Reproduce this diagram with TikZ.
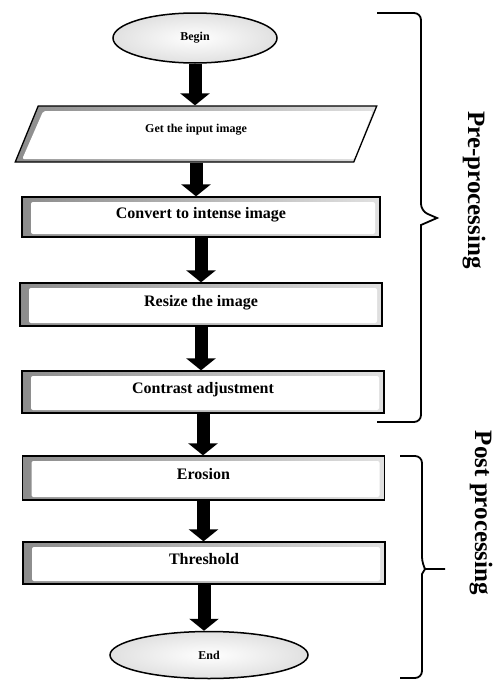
\documentclass[tikz,border=0pt]{standalone}
\usepackage{fontspec}
\setmainfont{Liberation Serif}
\usetikzlibrary{arrows.meta,positioning,shapes.geometric}
\tikzset{
  stepbox/.style={draw=black, line width=1.3pt, minimum width=362pt, minimum height=43pt, inner sep=0pt, text depth=8pt, font=\bfseries\fontsize{16}{18}\selectfont,
    path picture={
      \shade[left color=black!45, right color=black!12] (path picture bounding box.south west) rectangle (path picture bounding box.north east);
      \fill[white, rounded corners=2pt] ([shift={(9pt,-5pt)}]path picture bounding box.north west) rectangle ([shift={(-5pt,3pt)}]path picture bounding box.south east);
    }},
  inputbox/.style={trapezium, trapezium left angle=70, trapezium right angle=110, trapezium stretches=true, draw=black, line width=1.3pt, minimum width=362pt, minimum height=56pt, inner sep=0pt, text depth=12pt, font=\bfseries\fontsize{12}{14}\selectfont,
    path picture={
      \shade[left color=black!45, right color=black!12] (path picture bounding box.south west) rectangle (path picture bounding box.north east);
      \fill[white, rounded corners=2pt] ([shift={(28pt,-5pt)}]path picture bounding box.north west) -- ([shift={(-4pt,-5pt)}]path picture bounding box.north east) -- ([shift={(-22pt,3pt)}]path picture bounding box.south east) -- ([shift={(7pt,3pt)}]path picture bounding box.south west) -- cycle;
    }},
  terminal/.style={ellipse, draw=black, line width=1.5pt, inner sep=0pt, font=\bfseries\fontsize{12}{14}\selectfont, inner color=white, outer color=black!12},
  blockarrow/.style={-{Triangle[width=29pt,length=12pt]}, line width=13pt},
  bracket/.style={line width=1.8pt, rounded corners=7pt},
  phase/.style={rotate=-90, font=\bfseries\fontsize{25}{28}\selectfont}
}
\begin{document}
\begin{tikzpicture}[x=1pt, y=-1pt]
\useasboundingbox (0,0) rectangle (501,680);
% ---- flow ----
\node[terminal, minimum width=164pt, minimum height=50pt] (begin) at (195,38) {Begin};
\node[inputbox] (input) at (196,134) {Get the input image};
\node[stepbox, minimum width=358pt, minimum height=40pt] (convert) at (201,217) {Convert to intense image};
\node[stepbox] (resize) at (201,304.5) {Resize the image};
\node[stepbox, minimum height=42pt] (contrast) at (203,392) {Contrast adjustment};
\node[stepbox, minimum height=44pt] (erosion) at (203.5,478) {Erosion};
\node[stepbox, minimum height=42pt] (threshold) at (204,563) {Threshold};
\node[terminal, minimum width=198pt, minimum height=47pt] (end) at (209,655) {End};
\foreach \a/\b in {begin/input, input/convert, convert/resize, resize/contrast, contrast/erosion, erosion/threshold, threshold/end}
  \draw[blockarrow] (\a.south) -- (\a.south |- \b.north);
% ---- phases ----
\draw[bracket] (377,13) -- (421,13) -- (421,211) [sharp corners] -- (437,218) -- (421,225) [rounded corners=7pt] -- (421,422) -- (377,422);
\node[phase] (pre) at (474,190) {Pre-processing};
\draw[bracket] (400,456) -- (422,456) -- (422,564) [sharp corners] -- (425,569) -- (445,569) (425,569) -- (422,574) [rounded corners=7pt] -- (422,678) -- (400,678);
\node[phase] (post) at (481,513) {Post processing};
\end{tikzpicture}
\end{document}
